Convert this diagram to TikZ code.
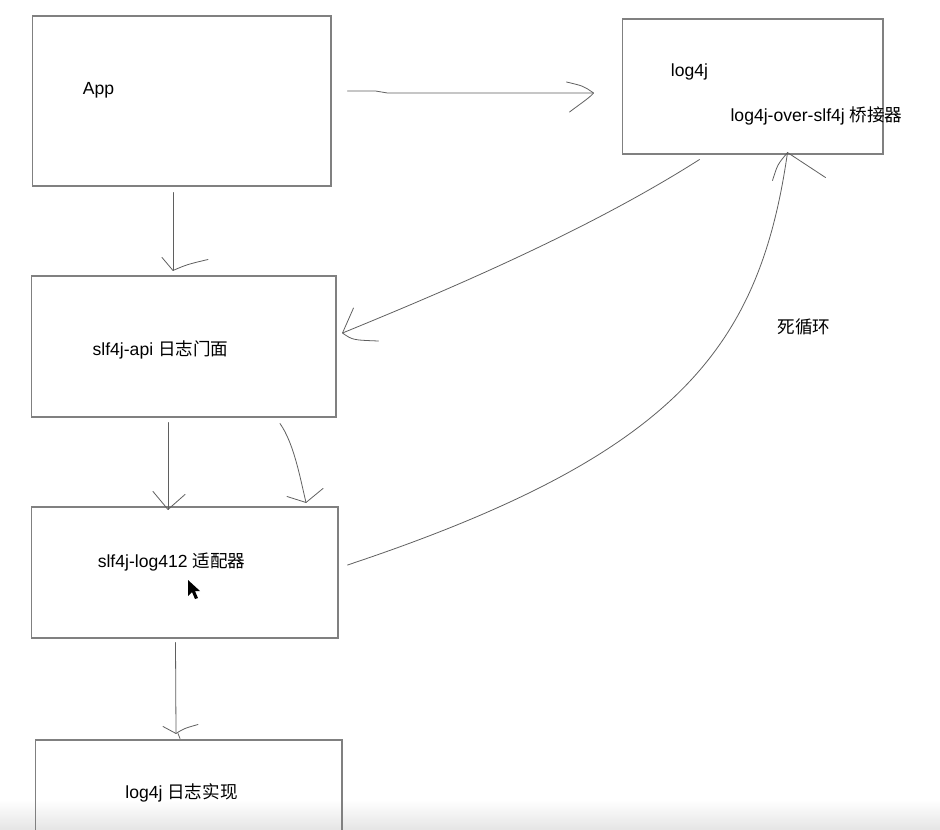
\documentclass[tikz,border=0pt]{standalone}
\usepackage{fontspec}
\setmainfont{Liberation Sans}
\newfontfamily\cjk{Noto Sans CJK SC}
\usetikzlibrary{calc,positioning}
\definecolor{boxgray}{RGB}{128,128,128}
\definecolor{penink}{RGB}{95,95,95}

\begin{document}
\begin{tikzpicture}[x=0.02cm,y=-0.02cm,
    box/.style={draw=boxgray, line width=0.6pt, inner sep=0pt},
    lbl/.style={font=\fontsize{10}{12}\selectfont, text=black, inner sep=0pt},
    pen/.style={draw=penink, line width=0.45pt, line cap=round, line join=round}]
  \clip (0,0) rectangle (940,829);
  \fill[white] (0,0) rectangle (940,829);
  \fill[top color=white, bottom color=black!10] (0,800) rectangle (940,829);

  % Boites
  \node[box, minimum width=5.98cm, minimum height=3.4cm]  (app)     at (181.5,101)  {};
  \node[box, minimum width=5.22cm, minimum height=2.7cm]  (log4j)   at (752.5,86.5) {};
  \node[box, minimum width=6.1cm,  minimum height=2.82cm] (api)     at (183.5,346.5) {};
  \node[box, minimum width=6.14cm, minimum height=2.62cm] (adapter) at (184.5,572.5) {};
  \node[box, minimum width=6.14cm, minimum height=2.2cm]  (impl)    at (188.5,795)  {};

  % Textes
  \node[lbl] (appTxt)     at ($(app.north west)+(67,75)$)      {App};
  \node[lbl] (log4jTxt)   at ($(log4j.north west)+(68,53)$)    {log4j};
  \node[lbl] (bridgeTxt)  at ($(log4j.north west)+(195,97)$)   {log4j-over-slf4j {\cjk 桥接器}};
  \node[lbl] (apiTxt)     at ($(api.north west)+(130,74)$)     {slf4j-api {\cjk 日志门面}};
  \node[lbl] (adapterTxt) at ($(adapter.north west)+(141,56)$) {slf4j-log412 {\cjk 适配器}};
  \node[lbl] (implTxt)    at ($(impl.north west)+(147,53)$)    {log4j {\cjk 日志实现}};
  \node[lbl] (loopTxt)    at (804,327)                         {\cjk 死循环};

  % Pointeur souris
  \fill[black] (188,580) -- (188,596) -- (192,592) -- (195,599) -- (198,598)
    -- (195,591) -- (200,591) -- cycle;

  % Pointes des fleches
  \coordinate (t1) at ($(log4j.west)+(-28,6.5)$);
  \coordinate (t2) at ($(api.north)+(-10.5,-5)$);
  \coordinate (t3) at ($(api.east)+(6,-13.5)$);
  \coordinate (t4) at ($(adapter.north)+(-16.5,3)$);
  \coordinate (t5) at ($(adapter.north)+(121.5,-4)$);
  \coordinate (t6) at ($(log4j.south east)+(-96,-2)$);
  \coordinate (t7) at ($(impl.north)+(-12.5,-6)$);

  % App -> log4j
  \draw[pen] ($(app.east)+(16,-10)$) -- ++(28,0) -- ++(12,2) -- (t1);
  \draw[pen] ($(t1)+(-27,-11)$) .. controls ($(t1)+(-10,-7)$) .. (t1)
    .. controls ($(t1)+(-3,4)$) and ($(t1)+(-12,10)$) .. ($(t1)+(-24,19)$);

  % App -> slf4j-api
  \draw[pen] ($(app.south)+(-8.5,6)$) -- (t2);
  \draw[pen] ($(t2)+(-11,-13)$) -- (t2) .. controls ($(t2)+(14,-6)$) .. ($(t2)+(35,-11)$);

  % log4j -> slf4j-api
  \draw[pen] ($(log4j.south west)+(78,5)$) .. controls +(-110,70) and +(110,-45) .. (t3);
  \draw[pen] ($(t3)+(11,-25)$) -- (t3) .. controls ($(t3)+(10,7)$) .. ($(t3)+(36,8)$);

  % slf4j-api -> adaptateur
  \draw[pen] ($(api.south)+(-15.5,5)$) -- (t4);
  \draw[pen] ($(t4)+(-15,-18)$) -- (t4) -- ($(t4)+(17,-15)$);
  \draw[pen] ($(api.south)+(96.5,6)$) .. controls +(14,20) and +(-6,-25) .. (t5);
  \draw[pen] ($(t5)+(-19,-6)$) -- (t5) -- ($(t5)+(17,-14)$);

  % adaptateur -> log4j (boucle)
  \draw[pen] ($(adapter.east)+(9,-7.5)$) .. controls +(330,-110) and +(-28,195) .. (t6);
  \draw[pen] ($(t6)+(-15,28)$) .. controls ($(t6)+(-10,12)$) .. (t6) -- ($(t6)+(38,25)$);

  % adaptateur -> log4j impl
  \draw[pen] ($(adapter.south)+(-9,4)$) -- (t7);
  \draw[pen] ($(t7)+(-13,-7)$) -- (t7) .. controls ($(t7)+(8,-5)$) .. ($(t7)+(22,-9)$);
  \draw[pen] ($(t7)+(2,0)$) -- ($(t7)+(4,5)$);
\end{tikzpicture}
\end{document}
